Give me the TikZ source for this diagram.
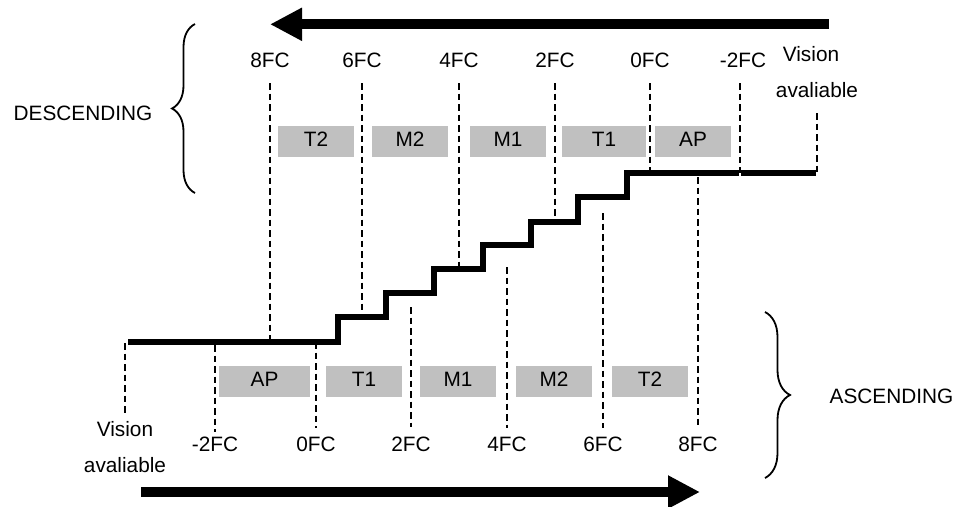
\documentclass[tikz,border=0pt]{standalone}
\usepackage{fontspec}
\setmainfont{Liberation Sans}
\usetikzlibrary{decorations.pathreplacing,arrows.meta}
\definecolor{phasegray}{HTML}{C0C0C0}
\begin{document}
\begin{tikzpicture}[x=1pt,y=-1pt,
  txt/.style={font=\fontsize{20.8}{24}\selectfont, inner sep=0pt, anchor=base},
  phase/.style={fill=phasegray, inner sep=0pt, minimum height=31pt, text depth=4pt,
                font=\fontsize{20.8}{24}\selectfont},
  guide/.style={line width=2pt, dash pattern=on 6.5pt off 4pt},
  stair/.style={line width=5.2pt},
  bigarrow/.style={line width=10pt, -{Triangle[length=32pt,width=31pt]}},
  bracket/.style={line width=1.8pt, decorate}]
\useasboundingbox (0,0) rectangle (961,506);

% direction arrows
\coordinate (dstart) at (829,24.3);
\coordinate (dend) at (270,24.3);
\draw[bigarrow] (dstart) -- (dend);
\coordinate (astart) at (141,492);
\coordinate (aend) at (700,492);
\draw[bigarrow] (astart) -- (aend);

% braces and side titles
\coordinate (dbtop) at (195,24);
\coordinate (dbbot) at (195,193);
\draw[bracket, decoration={brace, amplitude=23pt}] (dbbot) -- (dbtop);
\node[txt] (desc) at (83,120) {DESCENDING};
\coordinate (abtop) at (765,312);
\coordinate (abbot) at (765,478);
\draw[bracket, decoration={brace, amplitude=25pt}] (abtop) -- (abbot);
\node[txt] (asc) at (891.5,403) {ASCENDING};

% staircase
\draw[stair] (128,342) -- (338,342) -- (338,317) -- (386,317) -- (386,293)
  -- (434,293) -- (434,269) -- (483,269) -- (483,245) -- (531,245)
  -- (531,222) -- (578,222) -- (578,197) -- (627,197) -- (627,173) -- (738.5,173);
\draw[stair] (741,173) -- (816,173);

% descending guides and labels
\foreach \n/\x/\yb/\lab in {d8/270/342/8FC, d6/362/317/6FC, d4/459/269/4FC,
                            d2/555/222/2FC, d0/650/173/0FC} {
  \coordinate (\n top) at (\x,83);
  \coordinate (\n bot) at (\x,\yb);
  \draw[guide] (\n top) -- (\n bot);
  \node[txt] (\n lab) at (\x,67.7) {\lab};
}
\coordinate (dm2top) at (740,83);
\coordinate (dm2bot) at (740,173);
\draw[guide] (dm2top) -- (dm2bot);
\node[txt] (dm2lab) at (743,67.7) {-2FC};
\coordinate (dvtop) at (817,113);
\coordinate (dvbot) at (817,173);
\draw[guide] (dvtop) -- (dvbot);
\node[txt] (dvis1) at (811,61.7) {Vision};
\node[txt] (dvis2) at (817,97) {avaliable};

% descending phases
\node[phase, minimum width=76pt] (dT2) at (316,141.5) {T2};
\node[phase, minimum width=76pt] (dM2) at (410,141.5) {M2};
\node[phase, minimum width=76pt] (dM1) at (508,141.5) {M1};
\node[phase, minimum width=84pt] (dT1) at (604,141.5) {T1};
\node[phase, minimum width=76pt] (dAP) at (693,141.5) {AP};

% ascending guides and labels
\foreach \n/\x/\yt/\yb/\lab in {am2/215/345/432/-2FC, a0/316/342/428/0FC,
                                a2/411/307/427/2FC, a4/507/267/428/4FC,
                                a6/603/213/428/6FC, a8/698/177/428/8FC} {
  \coordinate (\n top) at (\x,\yt);
  \coordinate (\n bot) at (\x,\yb);
  \draw[guide] (\n top) -- (\n bot);
  \node[txt] (\n lab) at (\x,451.7) {\lab};
}
\coordinate (avtop) at (125,343);
\coordinate (avbot) at (125,416);
\draw[guide] (avtop) -- (avbot);
\node[txt] (avis1) at (125,436) {Vision};
\node[txt] (avis2) at (125,472.7) {avaliable};

% ascending phases
\node[phase, minimum width=91pt] (aAP) at (264.5,381.5) {AP};
\node[phase, minimum width=76pt] (aT1) at (364,381.5) {T1};
\node[phase, minimum width=76pt] (aM1) at (458,381.5) {M1};
\node[phase, minimum width=76pt] (aM2) at (554,381.5) {M2};
\node[phase, minimum width=76pt] (aT2) at (650,381.5) {T2};
\end{tikzpicture}
\end{document}
